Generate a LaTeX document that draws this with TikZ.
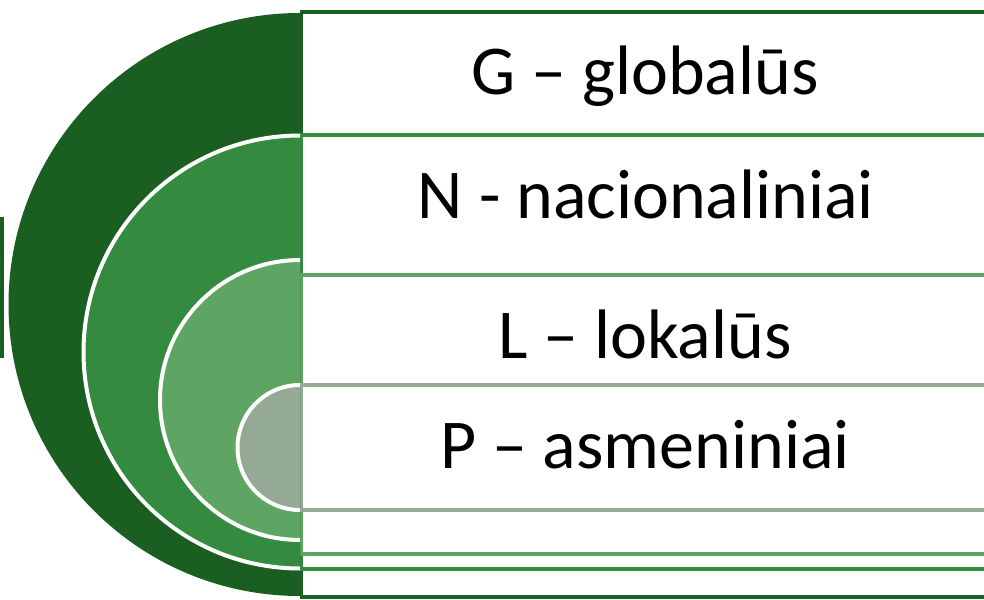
\documentclass[tikz,border=0pt]{standalone}
\usepackage{fontspec}
\setmainfont{Carlito}
\definecolor{levelG}{HTML}{1A5F21}
\definecolor{levelN}{HTML}{348A3F}
\definecolor{levelL}{HTML}{5EA463}
\definecolor{levelP}{HTML}{95AA95}

\begin{document}
\begin{tikzpicture}[
  x=1pt, y=-1pt,
  levelbox/.style = {draw=#1, fill=white, line width=3.3pt},
  leveldisc/.style = {fill=#1, draw=white, line width=4pt},
  leveltext/.style = {anchor=base, inner sep=0pt,
    font=\fontsize{70}{80}\selectfont}
]
\useasboundingbox (0,0) rectangle (984,599);
\clip (0,0) rectangle (984,599);
%--- STACKED BOXES ---
\draw[levelbox=levelG] (301.5,12)  rectangle (1010,597);
\draw[levelbox=levelN] (301.5,135) rectangle (1010,569);
\draw[levelbox=levelL] (301.5,275) rectangle (1010,554);
\draw[levelbox=levelP] (301.5,385) rectangle (1010,510);
%--- HALF DISCS ---
\begin{scope}
  \clip (-10,-10) rectangle (300,610);
  \fill[levelG] (300,304.5) circle[radius=291.5];
  \filldraw[leveldisc=levelN] (300,352) circle[radius=216.5];
  \filldraw[leveldisc=levelL] (300,400) circle[radius=140];
  \filldraw[leveldisc=levelP] (300,447.5) circle[radius=62.5];
\end{scope}
\fill[levelG] (0,217) rectangle (3.5,358);
%--- LABELS ---
\node[leveltext] (gText) at (645,95)  {G – globalūs};
\node[leveltext] (nText) at (646,218) {N - nacionaliniai};
\node[leveltext] (lText) at (645,358) {L – lokalūs};
\node[leveltext] (pText) at (645,468) {P – asmeniniai};
\end{tikzpicture}
\end{document}
